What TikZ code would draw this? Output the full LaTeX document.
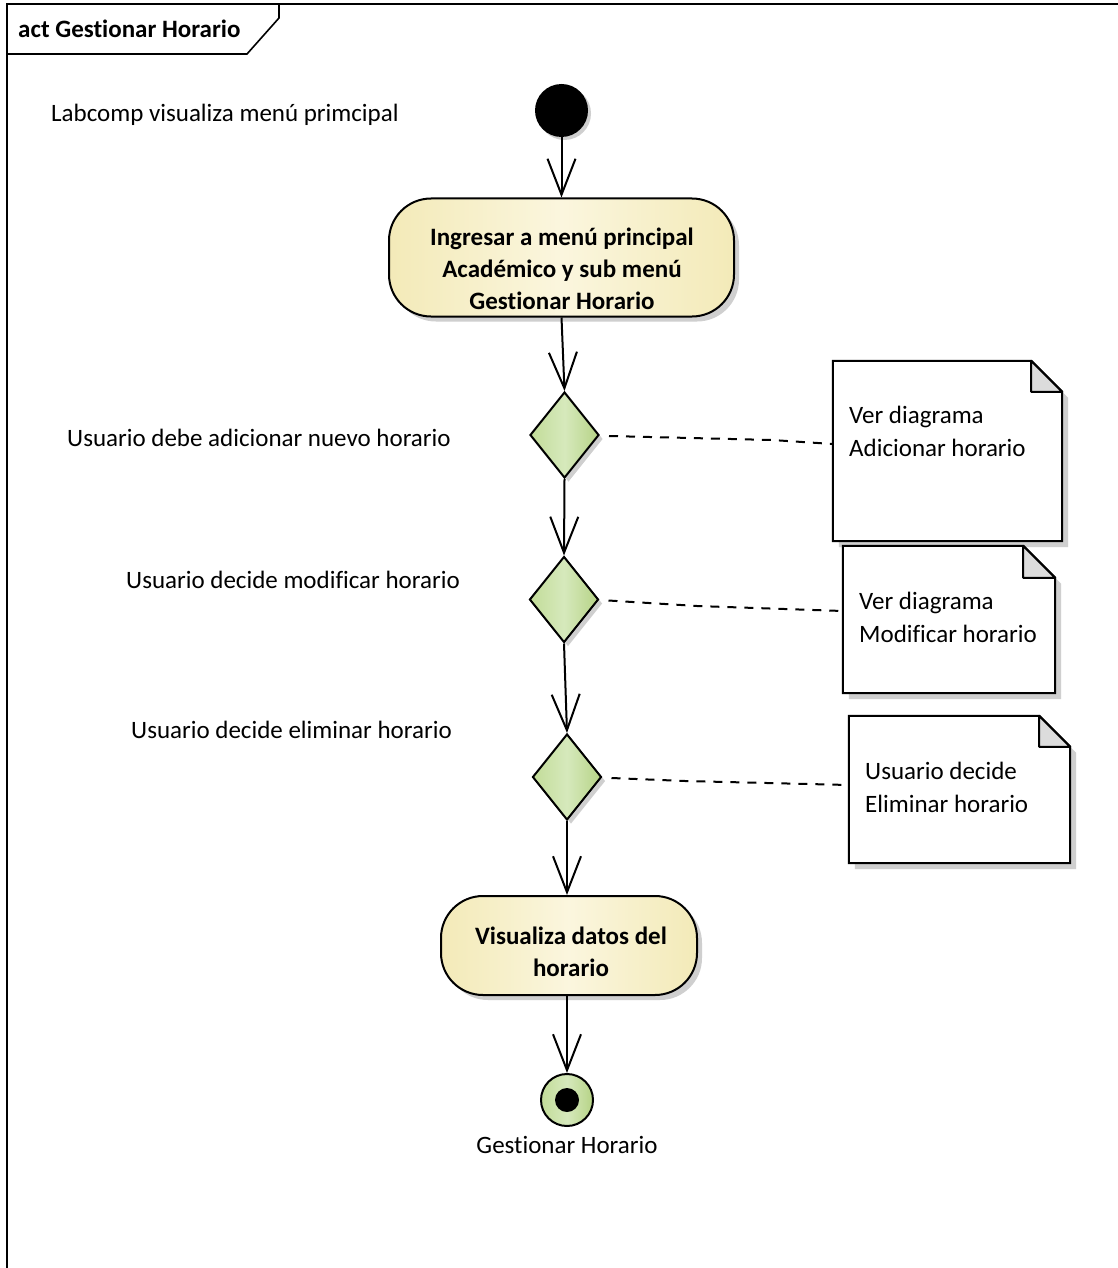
\documentclass[tikz,border=0pt]{standalone}
\usepackage{fontspec}
\setmainfont{Carlito}[Ligatures={NoCommon}]
\usetikzlibrary{arrows.meta,shapes.geometric,shadows}
\definecolor{actL}{HTML}{F3EAB8}
\definecolor{actM}{HTML}{FBF6DE}
\definecolor{decL}{HTML}{C2DC98}
\definecolor{decM}{HTML}{D6E9BC}
\definecolor{decR}{HTML}{B6D386}
\definecolor{shadowc}{HTML}{CFCFCF}
\definecolor{foldc}{HTML}{DCDCDC}
\begin{document}
\begin{tikzpicture}[x=1pt,y=-1pt,
  txt/.style={font=\fontsize{25}{33}\selectfont, inner sep=0pt, anchor=west, align=left},
  actionbox/.style={rectangle, rounded corners=42pt, draw, line width=2pt,
    left color=actL, right color=actL, middle color=actM,
    drop shadow={shadow xshift=5pt, shadow yshift=-5pt, fill=shadowc, opacity=1},
    inner sep=0pt},
  acttext/.style={font=\bfseries\fontsize{25}{32}\selectfont, align=center, inner sep=0pt},
  decision/.style={diamond, draw, line width=2pt, minimum width=69pt, minimum height=86pt,
    inner sep=0pt, left color=decL, right color=decR, middle color=decM,
    drop shadow={shadow xshift=4pt, shadow yshift=-4pt, fill=shadowc, opacity=1}},
  flow/.style={draw, line width=2pt, -{Straight Barb[length=36pt,width=28pt,line width=2pt]}},
  dashline/.style={draw, line width=2pt, dash pattern=on 9pt off 8pt},
  notebox/.style={rectangle, inner sep=0pt},
  noteline/.style={draw, line width=2pt, fill=white},
]
\useasboundingbox (0,0) rectangle (1118,1268);
\fill[white] (0,0) rectangle (1118,1268);

% frame
\draw[line width=1.6pt] (7,1290) -- (7,4) -- (1130,4);
\draw[line width=1.6pt] (7,54) -- (247,54) -- (279,18) -- (279,4);
\node[txt, font=\bfseries\fontsize{25}{28}\selectfont] (title) at (18,29) {act Gestionar Horario};

% nodes
\node[circle, fill=black, minimum size=53pt, inner sep=0pt,
  drop shadow={shadow xshift=3pt, shadow yshift=-3pt, fill=shadowc, opacity=1}] (s) at (561.5,110.5) {};
\node[actionbox, minimum width=345pt, minimum height=118pt] (a1) at (561.5,257.5) {};
\node[acttext] (a1t) at (562,269) {Ingresar a menú principal\\Académico y sub menú\\Gestionar Horario};
\node[decision] (d1) at (564.5,435) {};
\node[decision] (d2) at (564,599.5) {};
\node[decision] (d3) at (567,777) {};
\node[actionbox, minimum width=256pt, minimum height=99pt] (a2) at (569,945.5) {};
\node[acttext] (a2t) at (571,952) {Visualiza datos del\\horario};
\node[circle, draw, line width=2pt, minimum size=52pt, inner sep=0pt,
  left color=decL, right color=decR, middle color=decM] (f) at (567,1100) {};
\fill[black] (f.center) circle (12pt);

% labels
\node[txt] (l0) at (51,115) {Labcomp visualiza menú primcipal};
\node[txt] (l1) at (67,438) {Usuario debe adicionar nuevo horario};
\node[txt] (l2) at (126,580) {Usuario decide modificar horario};
\node[txt] (l3) at (131,730) {Usuario decide eliminar horario};
\node[txt, anchor=center] (lf) at (567,1145) {Gestionar Horario};

% notes
\node[notebox, minimum width=229pt, minimum height=180pt] (n1) at (947.5,451) {};
\node[notebox, minimum width=212pt, minimum height=147pt] (n2) at (949,619.5) {};
\node[notebox, minimum width=221pt, minimum height=147pt] (n3) at (959.5,789.5) {};
\foreach \n/\fd in {n1/31, n2/32, n3/31} {
  \fill[shadowc] ([shift={(6pt,-6pt)}]\n.north west) -- ([shift={(6pt-\fd pt,-6pt)}]\n.north east)
     -- ([shift={(6pt,-6pt-\fd pt)}]\n.north east)
     -- ([shift={(6pt,-6pt)}]\n.south east) -- ([shift={(6pt,-6pt)}]\n.south west) -- cycle;
  \path[noteline] (\n.north west) -- ([xshift=-\fd pt]\n.north east) -- ([yshift=-\fd pt]\n.north east)
     -- (\n.south east) -- (\n.south west) -- cycle;
  \path[draw, line width=2pt, fill=foldc, line join=round] ([xshift=-\fd pt]\n.north east)
     -- ([xshift=-\fd pt, yshift=-\fd pt]\n.north east) -- ([yshift=-\fd pt]\n.north east) -- cycle;
}
\node[txt] (t1) at (849,431.5) {Ver diagrama\\Adicionar horario};
\node[txt] (t2) at (859,617.5) {Ver diagrama\\Modificar horario};
\node[txt] (t3) at (865,787.5) {Usuario decide\\Eliminar horario};

% flows
\draw[flow] (s) -- (a1);
\draw[flow] (a1.south) -- (d1.north);
\draw[flow] (d1.south) -- (d2.north);
\draw[flow] (d2.south) -- (d3.north);
\draw[flow] (d3.south) -- (a2.north -| d3.south);
\draw[flow] (a2.south -| f.north) -- (f.north);

% note links
\coordinate (k1) at (772,440);
\coordinate (k2) at (697,606);
\coordinate (k3) at (685,781);
\draw[dashline] ([xshift=9pt,yshift=-1pt]d1.east) -- (k1) -- (n1.west |- 0,444);
\draw[dashline] ([xshift=9pt,yshift=-1pt]d2.east) -- (k2) -- (n2.west |- 0,611);
\draw[dashline] ([xshift=9pt,yshift=-1pt]d3.east) -- (k3) -- (n3.west |- 0,785);
\end{tikzpicture}
\end{document}
